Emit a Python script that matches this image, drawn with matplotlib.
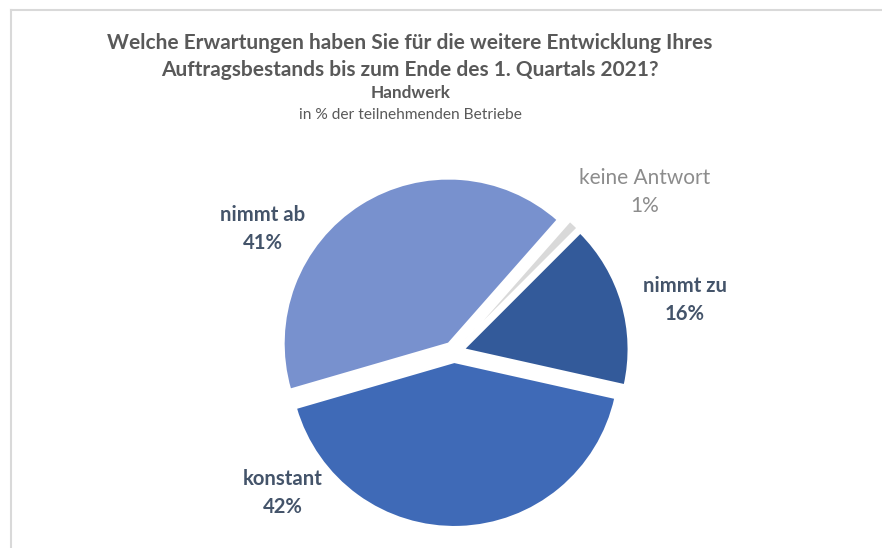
import matplotlib
matplotlib.use("Agg")
import matplotlib.pyplot as plt

labels = ["nimmt zu", "konstant", "nimmt ab", "keine Antwort"]
shares = [16, 42, 41, 1]
colors = ["#335A9A", "#3F6AB7", "#7891CE", "#D9D9D9"]

title_lines = [
    "Welche Erwartungen haben Sie für die weitere Entwicklung Ihres",
    "Auftragsbestands bis zum Ende des 1. Quartals 2021?",
]
subtitle = "Handwerk"
unit_note = "in % der teilnehmenden Betriebe"

plt.rcParams["font.family"] = ["Lato", "DejaVu Sans"]

W, H = 882, 548
fig = plt.figure(figsize=(W / 100, H / 100), dpi=100)
ax = fig.add_axes([0, 0, 1, 1])

# explode is in data units here (radius is in pixels)
ax.pie(shares, colors=colors, startangle=45, counterclock=False,
       explode=[10] * len(shares), radius=165, center=(454, H - 352),
       wedgeprops=dict(linewidth=1.5, edgecolor="white"))
ax.set_xlim(0, W)
ax.set_ylim(0, H)
ax.set_aspect("equal")
ax.axis("off")

# chart border (only top/left visible in the crop)
ax.plot([11, 11], [0, H - 10], color="#D9D9D9", lw=1.5)
ax.plot([11, W], [H - 10, H - 10], color="#D9D9D9", lw=1.5)

dark = "#595959"
ax.text(410, H - 43, title_lines[0], ha="center", va="center",
        fontsize=15, fontweight="bold", color=dark)
ax.text(410, H - 70, title_lines[1], ha="center", va="center",
        fontsize=15, fontweight="bold", color=dark)
ax.text(411, H - 93, subtitle, ha="center", va="center",
        fontsize=12.3, fontweight="bold", color=dark)
ax.text(410, H - 115, unit_note, ha="center", va="center",
        fontsize=11.2, color=dark)

label_pos = {
    "nimmt zu": (685, 300),
    "konstant": (283, 493),
    "nimmt ab": (263, 229),
    "keine Antwort": (645, 192),
}
for name, val in zip(labels, shares):
    x, y = label_pos[name]
    if name == "keine Antwort":
        col, fw, fs = "#8C8C8C", "normal", 15
    else:
        col, fw, fs = "#44546A", "bold", 14.6
    ax.text(x, H - y, f"{name}\n{val}%", ha="center", va="center",
            fontsize=fs, fontweight=fw, color=col, linespacing=1.45)

fig.savefig("out.png", dpi=100)
plt.close(fig)
